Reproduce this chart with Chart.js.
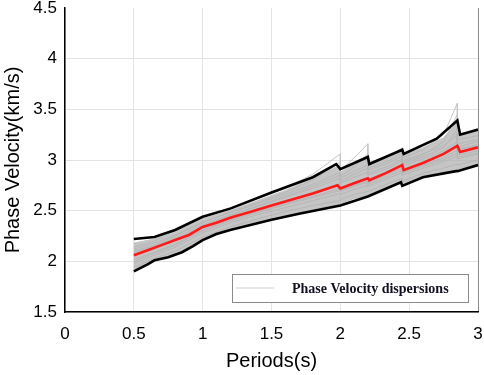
<!DOCTYPE html>
<html>
<head>
<meta charset="utf-8">
<script src="https://cdn.jsdelivr.net/npm/chart.js@4"></script>
<style>
  html, body { margin: 0; padding: 0; background: #fff; }
  #box { width: 484px; height: 375px; }
</style>
</head>
<body>
<div id="box"><canvas id="grafico"></canvas></div>
<script>
// ─── Dados ────────────────────────────────────────────────────────────────────
const periodos = [0.5, 0.65, 0.8, 1.0, 1.2, 1.4, 1.6, 1.8, 2.0, 2.0, 2.1, 2.2, 2.2, 2.35, 2.45, 2.45, 2.6, 2.75, 2.85, 2.85, 3.0];

// curvas de dispersão (cinza)
const curvasCinza = [
  [2.18, 2.22, 2.29, 2.42, 2.50, 2.60, 2.70, 2.82, 2.95, 2.88, 2.96, 3.03, 2.95, 3.02, 3.09, 3.05, 3.12, 3.22, 3.38, 3.26, 3.29],
  [2.12, 2.18, 2.26, 2.39, 2.48, 2.57, 2.66, 2.76, 2.88, 2.82, 2.89, 2.95, 2.90, 2.97, 3.04, 2.99, 3.06, 3.14, 3.25, 3.16, 3.20],
  [2.09, 2.15, 2.23, 2.36, 2.46, 2.54, 2.63, 2.72, 2.82, 2.77, 2.83, 2.88, 2.85, 2.92, 2.99, 2.94, 3.01, 3.09, 3.18, 3.11, 3.15],
  [2.05, 2.12, 2.20, 2.33, 2.44, 2.52, 2.60, 2.68, 2.77, 2.73, 2.78, 2.83, 2.81, 2.89, 2.96, 2.91, 2.98, 3.06, 3.15, 3.08, 3.12],
  [2.02, 2.09, 2.17, 2.31, 2.41, 2.49, 2.57, 2.64, 2.72, 2.70, 2.75, 2.79, 2.78, 2.86, 2.92, 2.88, 2.95, 3.02, 3.10, 3.05, 3.09],
  [1.98, 2.06, 2.14, 2.28, 2.38, 2.46, 2.53, 2.60, 2.67, 2.66, 2.71, 2.75, 2.74, 2.82, 2.88, 2.85, 2.92, 2.98, 3.04, 3.01, 3.06],
  [1.94, 2.03, 2.10, 2.24, 2.34, 2.42, 2.49, 2.55, 2.60, 2.61, 2.66, 2.69, 2.69, 2.77, 2.82, 2.79, 2.87, 2.92, 2.96, 2.95, 3.00],
  [1.92, 2.01, 2.06, 2.22, 2.31, 2.39, 2.45, 2.51, 2.56, 2.57, 2.62, 2.65, 2.65, 2.73, 2.79, 2.75, 2.84, 2.88, 2.90, 2.91, 2.96],
  [2.14, 2.20, 2.30, 2.44, 2.53, 2.62, 2.72, 2.86, 3.06, 2.90, 3.02, 3.16, 2.97, 3.04, 3.12, 3.02, 3.10, 3.25, 3.56, 3.20, 3.24],
  [2.10, 2.16, 2.25, 2.38, 2.49, 2.58, 2.68, 2.80, 2.98, 2.84, 2.93, 3.06, 2.92, 2.99, 3.07, 2.97, 3.05, 3.18, 3.45, 3.13, 3.18],
  [2.07, 2.13, 2.21, 2.35, 2.45, 2.55, 2.64, 2.74, 2.85, 2.79, 2.86, 2.92, 2.87, 2.94, 3.01, 2.96, 3.03, 3.12, 3.30, 3.10, 3.14],
  [2.00, 2.08, 2.16, 2.30, 2.40, 2.48, 2.56, 2.63, 2.70, 2.69, 2.74, 2.78, 2.76, 2.84, 2.90, 2.87, 2.94, 3.00, 3.07, 3.03, 3.07],
];

// média (vermelho)
const mediaX = [0.5, 0.6, 0.7, 0.8, 0.9, 1.0, 1.1, 1.2, 1.35, 1.5, 1.65, 1.8, 1.98, 2.0, 2.1, 2.2, 2.21, 2.33, 2.45, 2.46, 2.6, 2.75, 2.85, 2.87, 3.0];
const mediaY = [2.06, 2.11, 2.16, 2.21, 2.26, 2.34, 2.38, 2.43, 2.49, 2.55, 2.61, 2.67, 2.75, 2.72, 2.77, 2.82, 2.80, 2.87, 2.95, 2.90, 2.97, 3.06, 3.14, 3.08, 3.125];

// limite superior (preto)
const supX = [0.5, 0.65, 0.8, 1.0, 1.2, 1.5, 1.8, 1.97, 2.0, 2.2, 2.21, 2.45, 2.46, 2.7, 2.85, 2.87, 3.0];
const supY = [2.22, 2.24, 2.31, 2.44, 2.52, 2.68, 2.83, 2.96, 2.91, 3.03, 2.96, 3.10, 3.06, 3.21, 3.39, 3.25, 3.30];

// limite inferior (preto)
const infX = [0.5, 0.6, 0.65, 0.75, 0.85, 0.93, 1.0, 1.1, 1.2, 1.5, 1.7, 2.0, 2.2, 2.44, 2.45, 2.6, 2.84, 2.85, 3.0];
const infY = [1.90, 1.97, 2.01, 2.04, 2.09, 2.15, 2.21, 2.27, 2.31, 2.41, 2.47, 2.55, 2.64, 2.78, 2.745, 2.83, 2.89, 2.89, 2.95];

const ticksX = [0, 0.5, 1, 1.5, 2, 2.5, 3];
const ticksY = [1.5, 2, 2.5, 3, 3.5, 4, 4.5];
const legendaTexto = 'Phase Velocity dispersions';

// ─── Helpers ──────────────────────────────────────────────────────────────────
const pares = (xs, ys) => xs.map((x, i) => ({ x, y: ys[i] }));

const FONTE = '"Liberation Sans", Arial, sans-serif';

// ─── Datasets ─────────────────────────────────────────────────────────────────
const datasets = [
  { data: pares(mediaX, mediaY), borderColor: '#ff1a1a', borderWidth: 2.6, order: 0 },
  { data: pares(supX, supY), borderColor: '#000', borderWidth: 2.6, order: 1 },
  { data: pares(infX, infY), borderColor: '#000', borderWidth: 2.6, order: 1 },
];
const idxCinza0 = datasets.length;
curvasCinza.forEach((ys, i) => {
  datasets.push({
    data: pares(periodos, ys),
    borderColor: '#c4c4c4',
    borderWidth: 1,
    order: 2,
    fill: i === 0 ? { target: idxCinza0 + 7 } : false,
    backgroundColor: 'rgba(178,178,178,0.75)',
  });
});
datasets.forEach(d => { d.pointRadius = 0; d.tension = 0; });

// ─── Legenda desenhada dentro da área ────────────────────────────────────────
const legendaPlugin = {
  id: 'legendaInterna',
  afterDatasetsDraw(chart) {
    const { ctx, chartArea: a } = chart;
    const l = a.right - 246, r = a.right - 10, t = a.bottom - 38, b = a.bottom - 10;
    const my = (t + b) / 2;
    ctx.save();
    ctx.fillStyle = '#fff';
    ctx.fillRect(l, t, r - l, b - t);
    ctx.strokeStyle = '#8a8a8a';
    ctx.lineWidth = 1;
    ctx.strokeRect(l + 0.5, t + 0.5, r - l, b - t);
    ctx.strokeStyle = '#cfcfcf';
    ctx.beginPath();
    ctx.moveTo(l + 4, my); ctx.lineTo(l + 42, my);
    ctx.stroke();
    ctx.fillStyle = '#111122';
    ctx.font = 'bold 14px "Liberation Serif", "Times New Roman", serif';
    ctx.textBaseline = 'middle';
    ctx.fillText(legendaTexto, l + 60, my + 1);
    ctx.restore();
  },
};

// ─── Gráfico ──────────────────────────────────────────────────────────────────
new Chart(document.getElementById('grafico'), {
  type: 'line',
  data: { datasets },
  plugins: [legendaPlugin],
  options: {
    responsive: true,
    maintainAspectRatio: false,
    animation: false,
    events: [],
    layout: { padding: { top: 8, right: 6, left: 0, bottom: 0 } },
    plugins: { legend: { display: false }, tooltip: { enabled: false } },
    scales: {
      x: {
        type: 'linear', min: 0, max: 3,
        afterFit: s => { s.height = 63; s.paddingLeft = 0; s.paddingRight = 0; },
        afterBuildTicks: s => { s.ticks = ticksX.map(v => ({ value: v })); },
        ticks: { color: '#000', font: { family: FONTE, size: 17 }, padding: 12, maxRotation: 0, callback: v => String(v) },
        grid: {
          color: c => (c.tick && c.tick.value === 3 ? '#8c8c8c' : '#e3e3e3'),
          drawTicks: false,
        },
        border: { color: '#000', width: 1.5 },
        title: { display: true, text: 'Periods(s)', color: '#000', font: { family: FONTE, size: 20 }, padding: { top: 0, bottom: 2 } },
      },
      y: {
        type: 'linear', min: 1.5, max: 4.5,
        afterFit: s => { s.width = 65; s.paddingTop = 0; s.paddingBottom = 0; },
        afterBuildTicks: s => { s.ticks = ticksY.map(v => ({ value: v })); },
        ticks: { color: '#000', font: { family: FONTE, size: 17 }, padding: 8, callback: v => String(v) },
        grid: {
          color: c => (c.tick && c.tick.value === 4.5 ? 'rgba(0,0,0,0)' : '#e3e3e3'),
          drawTicks: false,
        },
        border: { color: '#000', width: 1.5 },
        title: { display: true, text: 'Phase Velocity(km/s)', color: '#000', font: { family: FONTE, size: 20 }, padding: { top: 1, bottom: 0 } },
      },
    },
  },
});
</script>
</body>
</html>
